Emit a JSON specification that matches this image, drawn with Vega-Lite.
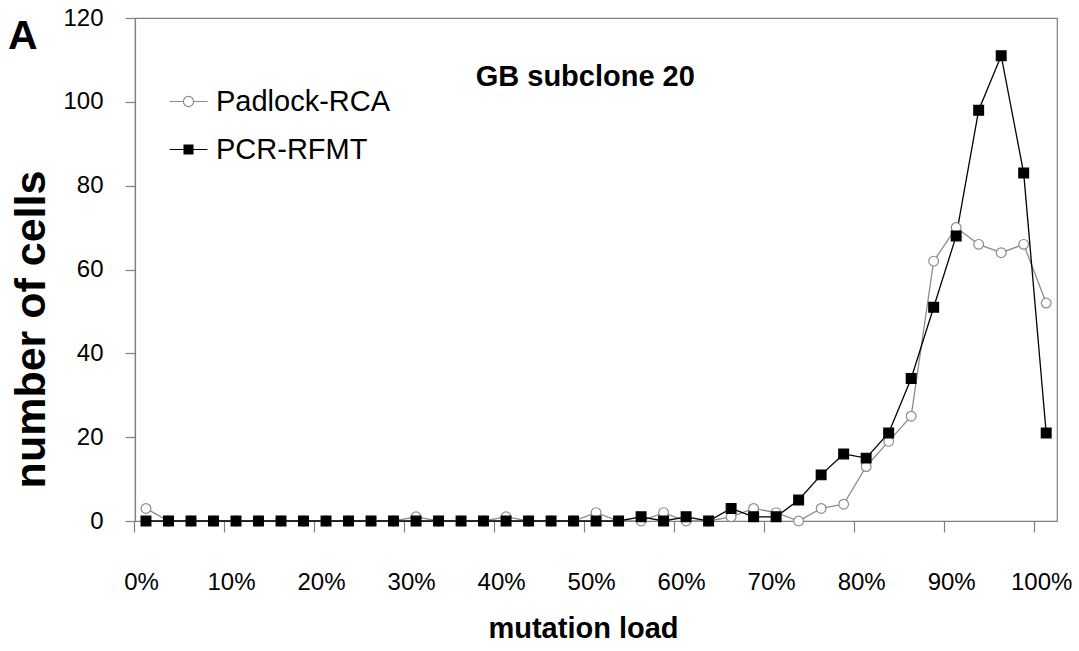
{
  "$schema": "https://vega.github.io/schema/vega-lite/v6.json",
  "width": 922,
  "height": 503,
  "autosize": {"type": "none"},
  "padding": {"left": 135, "top": 18, "right": 22, "bottom": 130},
  "background": "white",
  "config": {
    "font": "Liberation Sans",
    "view": {"stroke": "#808080", "strokeWidth": 1.2},
    "axis": {"domainColor": "#808080", "tickColor": "#808080", "domainWidth": 1.2, "tickWidth": 1.2, "grid": false, "labelColor": "black", "titleColor": "black", "labelFont": "Liberation Sans", "titleFont": "Liberation Sans"}
  },
  "title": {"text": "A", "anchor": "start", "frame": "group", "fontSize": 41, "fontWeight": "bold", "font": "Liberation Sans", "color": "black", "baseline": "alphabetic", "offset": 0, "dx": -127, "dy": 84},
  "data": {"values": [
    {"series": "Padlock-RCA", "load": 0, "cells": 3},
    {"series": "Padlock-RCA", "load": 2.5, "cells": 0},
    {"series": "Padlock-RCA", "load": 5, "cells": 0},
    {"series": "Padlock-RCA", "load": 7.5, "cells": 0},
    {"series": "Padlock-RCA", "load": 10, "cells": 0},
    {"series": "Padlock-RCA", "load": 12.5, "cells": 0},
    {"series": "Padlock-RCA", "load": 15, "cells": 0},
    {"series": "Padlock-RCA", "load": 17.5, "cells": 0},
    {"series": "Padlock-RCA", "load": 20, "cells": 0},
    {"series": "Padlock-RCA", "load": 22.5, "cells": 0},
    {"series": "Padlock-RCA", "load": 25, "cells": 0},
    {"series": "Padlock-RCA", "load": 27.5, "cells": 0},
    {"series": "Padlock-RCA", "load": 30, "cells": 1},
    {"series": "Padlock-RCA", "load": 32.5, "cells": 0},
    {"series": "Padlock-RCA", "load": 35, "cells": 0},
    {"series": "Padlock-RCA", "load": 37.5, "cells": 0},
    {"series": "Padlock-RCA", "load": 40, "cells": 1},
    {"series": "Padlock-RCA", "load": 42.5, "cells": 0},
    {"series": "Padlock-RCA", "load": 45, "cells": 0},
    {"series": "Padlock-RCA", "load": 47.5, "cells": 0},
    {"series": "Padlock-RCA", "load": 50, "cells": 2},
    {"series": "Padlock-RCA", "load": 52.5, "cells": 0},
    {"series": "Padlock-RCA", "load": 55, "cells": 0},
    {"series": "Padlock-RCA", "load": 57.5, "cells": 2},
    {"series": "Padlock-RCA", "load": 60, "cells": 0},
    {"series": "Padlock-RCA", "load": 62.5, "cells": 0},
    {"series": "Padlock-RCA", "load": 65, "cells": 1},
    {"series": "Padlock-RCA", "load": 67.5, "cells": 3},
    {"series": "Padlock-RCA", "load": 70, "cells": 2},
    {"series": "Padlock-RCA", "load": 72.5, "cells": 0},
    {"series": "Padlock-RCA", "load": 75, "cells": 3},
    {"series": "Padlock-RCA", "load": 77.5, "cells": 4},
    {"series": "Padlock-RCA", "load": 80, "cells": 13},
    {"series": "Padlock-RCA", "load": 82.5, "cells": 19},
    {"series": "Padlock-RCA", "load": 85, "cells": 25},
    {"series": "Padlock-RCA", "load": 87.5, "cells": 62},
    {"series": "Padlock-RCA", "load": 90, "cells": 70},
    {"series": "Padlock-RCA", "load": 92.5, "cells": 66},
    {"series": "Padlock-RCA", "load": 95, "cells": 64},
    {"series": "Padlock-RCA", "load": 97.5, "cells": 66},
    {"series": "Padlock-RCA", "load": 100, "cells": 52},
    {"series": "PCR-RFMT", "load": 0, "cells": 0},
    {"series": "PCR-RFMT", "load": 2.5, "cells": 0},
    {"series": "PCR-RFMT", "load": 5, "cells": 0},
    {"series": "PCR-RFMT", "load": 7.5, "cells": 0},
    {"series": "PCR-RFMT", "load": 10, "cells": 0},
    {"series": "PCR-RFMT", "load": 12.5, "cells": 0},
    {"series": "PCR-RFMT", "load": 15, "cells": 0},
    {"series": "PCR-RFMT", "load": 17.5, "cells": 0},
    {"series": "PCR-RFMT", "load": 20, "cells": 0},
    {"series": "PCR-RFMT", "load": 22.5, "cells": 0},
    {"series": "PCR-RFMT", "load": 25, "cells": 0},
    {"series": "PCR-RFMT", "load": 27.5, "cells": 0},
    {"series": "PCR-RFMT", "load": 30, "cells": 0},
    {"series": "PCR-RFMT", "load": 32.5, "cells": 0},
    {"series": "PCR-RFMT", "load": 35, "cells": 0},
    {"series": "PCR-RFMT", "load": 37.5, "cells": 0},
    {"series": "PCR-RFMT", "load": 40, "cells": 0},
    {"series": "PCR-RFMT", "load": 42.5, "cells": 0},
    {"series": "PCR-RFMT", "load": 45, "cells": 0},
    {"series": "PCR-RFMT", "load": 47.5, "cells": 0},
    {"series": "PCR-RFMT", "load": 50, "cells": 0},
    {"series": "PCR-RFMT", "load": 52.5, "cells": 0},
    {"series": "PCR-RFMT", "load": 55, "cells": 1},
    {"series": "PCR-RFMT", "load": 57.5, "cells": 0},
    {"series": "PCR-RFMT", "load": 60, "cells": 1},
    {"series": "PCR-RFMT", "load": 62.5, "cells": 0},
    {"series": "PCR-RFMT", "load": 65, "cells": 3},
    {"series": "PCR-RFMT", "load": 67.5, "cells": 1},
    {"series": "PCR-RFMT", "load": 70, "cells": 1},
    {"series": "PCR-RFMT", "load": 72.5, "cells": 5},
    {"series": "PCR-RFMT", "load": 75, "cells": 11},
    {"series": "PCR-RFMT", "load": 77.5, "cells": 16},
    {"series": "PCR-RFMT", "load": 80, "cells": 15},
    {"series": "PCR-RFMT", "load": 82.5, "cells": 21},
    {"series": "PCR-RFMT", "load": 85, "cells": 34},
    {"series": "PCR-RFMT", "load": 87.5, "cells": 51},
    {"series": "PCR-RFMT", "load": 90, "cells": 68},
    {"series": "PCR-RFMT", "load": 92.5, "cells": 98},
    {"series": "PCR-RFMT", "load": 95, "cells": 111},
    {"series": "PCR-RFMT", "load": 97.5, "cells": 83},
    {"series": "PCR-RFMT", "load": 100, "cells": 21}
  ]},
  "encoding": {
    "x": {"field": "load", "type": "quantitative",
      "scale": {"domain": [-1.22, 101.2], "nice": false, "zero": false},
      "axis": {"values": [0, 10, 20, 30, 40, 50, 60, 70, 80, 90, 100], "labelExpr": "datum.value + '%'", "labelFontSize": 24, "tickSize": 11, "tickOffset": -12, "labelOffset": 7, "labelPadding": 38, "labelFlush": false, "labelOverlap": false, "title": "mutation load", "titleFontSize": 29, "titleFontWeight": "bold", "titlePadding": 20, "titleX": 448}},
    "y": {"field": "cells", "type": "quantitative",
      "scale": {"domain": [0, 120], "nice": false},
      "axis": {"values": [0, 20, 40, 60, 80, 100, 120], "labelFontSize": 24, "tickSize": 10, "labelPadding": 22, "labelFlush": false, "labelOverlap": false, "title": "number of cells", "titleFontSize": 43, "titleFontWeight": "bold", "titlePadding": 9, "titleY": 311}}
  },
  "layer": [
    {
      "mark": {"type": "line", "strokeWidth": 1.3},
      "encoding": {
        "stroke": {"field": "series", "type": "nominal", "scale": {"domain": ["Padlock-RCA", "PCR-RFMT"], "range": ["#8c8c8c", "#000000"]}, "legend": null}
      }
    },
    {
      "mark": {"type": "point", "opacity": 1, "strokeWidth": 1.2, "filled": true},
      "encoding": {
        "shape": {"field": "series", "type": "nominal", "scale": {"domain": ["Padlock-RCA", "PCR-RFMT"], "range": ["circle", "square"]}, "legend": null},
        "fill": {"field": "series", "type": "nominal", "scale": {"domain": ["Padlock-RCA", "PCR-RFMT"], "range": ["white", "black"]}, "legend": null},
        "stroke": {"field": "series", "type": "nominal", "legend": null},
        "size": {"value": 95}
      }
    },
    {
      "transform": [{"filter": "false"}],
      "mark": {"type": "point", "opacity": 1, "strokeWidth": 1.2, "filled": true},
      "encoding": {
        "shape": {"field": "series", "type": "nominal",
          "scale": {"domain": ["Padlock-RCA", "PCR-RFMT"], "range": ["M-3,0H-0.8M0.8,0H3M0.8,0A0.8,0.8,0,1,1,-0.8,0A0.8,0.8,0,1,1,0.8,0Z", "M-3,0H3M-0.7,-0.7H0.7V0.7H-0.7Z"]},
          "legend": {"title": null, "orient": "none", "legendX": 39, "legendY": 69, "padding": 0,
            "labelFontSize": 29, "labelFont": "Liberation Sans", "labelColor": "black", "labelLimit": 0, "rowPadding": 18,
            "symbolSize": 160, "labelOffset": 13, "symbolStrokeWidth": 1.2, "symbolOpacity": 1}},
        "fill": {"field": "series", "type": "nominal"},
        "stroke": {"field": "series", "type": "nominal"},
        "size": {"value": 160}
      }
    },
    {
      "transform": [{"filter": "datum.series === 'PCR-RFMT' && datum.load === 0"}],
      "mark": {"type": "text", "fontSize": 29, "fontWeight": "bold", "font": "Liberation Sans", "color": "black", "baseline": "middle", "align": "center"},
      "encoding": {
        "x": {"datum": 48.8, "type": "quantitative"},
        "y": {"datum": 106, "type": "quantitative"},
        "text": {"value": "GB subclone 20"}
      }
    }
  ],
  "resolve": {"scale": {"shape": "independent"}, "legend": {"shape": "independent", "fill": "independent", "stroke": "independent"}}
}
